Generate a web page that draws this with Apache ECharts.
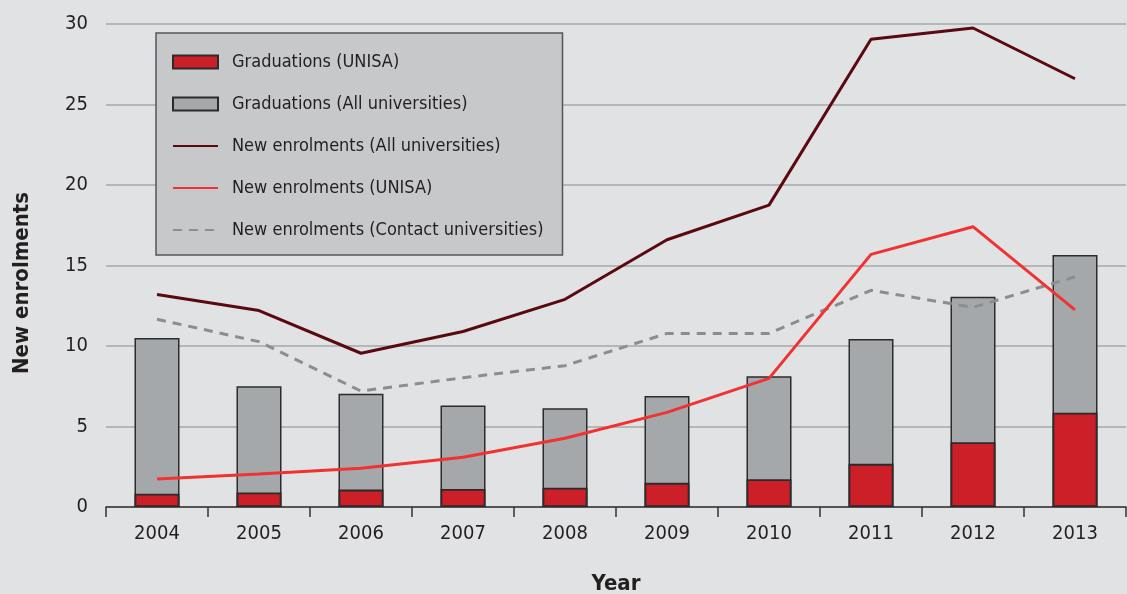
<!DOCTYPE html>
<html><head><meta charset="utf-8">
<script src="https://cdn.jsdelivr.net/npm/echarts@6/dist/echarts.min.js"></script>
<style>html,body{margin:0;padding:0;background:#e1e2e4;}#c{width:1127px;height:594px;}</style>
</head><body><div id="c"></div>
<script>
const years = ['2004','2005','2006','2007','2008','2009','2010','2011','2012','2013'];
const gradUnisa = [0.82, 0.9, 1.08, 1.12, 1.2, 1.5, 1.72, 2.68, 4.02, 5.86];
const gradAll = [10.5, 7.5, 7.04, 6.3, 6.13, 6.9, 8.12, 10.43, 13.06, 15.65];
const enrolAll = [13.2, 12.2, 9.55, 10.9, 12.9, 16.6, 18.75, 29.05, 29.75, 26.6];
const enrolUnisa = [1.74, 2.05, 2.4, 3.09, 4.27, 5.88, 7.99, 15.69, 17.41, 12.24];
const enrolContact = [11.66, 10.27, 7.2, 8.03, 8.78, 10.78, 10.78, 13.46, 12.4, 14.3];
const yTicks = [0, 5, 10, 15, 20, 25, 30];

const FONT = '"DejaVu Sans Condensed","DejaVu Sans",sans-serif';
const TXT = '#231f20';
const chart = echarts.init(document.getElementById('c'));
chart.setOption({
  backgroundColor: '#e1e2e4',
  animation: false,
  textStyle: {fontFamily: FONT},
  grid: {left: 106, right: 1, top: 24, bottom: 87, containLabel: false, outerBoundsMode: 'none'},
  graphic: [{
    type: 'text', x: 22, y: 283, rotation: Math.PI / 2,
    style: {text: 'New enrolments', fontFamily: FONT, fontSize: 22, fontWeight: 'bold', fill: TXT, align: 'center', verticalAlign: 'middle'}
  }],
  legend: {
    orient: 'vertical', left: 156, top: 33,
    backgroundColor: '#c6c8c9', borderColor: '#555', borderWidth: 1.5,
    padding: [20, 19, 16, 16],
    itemWidth: 45, itemHeight: 13, itemGap: 24,
    textStyle: {fontFamily: FONT, fontSize: 18, color: TXT, padding: [0, 0, 0, 9]},
    data: [
      {name: 'Graduations (UNISA)', icon: 'rect'},
      {name: 'Graduations (All universities)', icon: 'rect'},
      {name: 'New enrolments (All universities)', itemStyle: {opacity: 0}},
      {name: 'New enrolments (UNISA)', itemStyle: {opacity: 0}},
      {name: 'New enrolments (Contact universities)', itemStyle: {opacity: 0}}
    ]
  },
  xAxis: {
    type: 'category', data: years,
    name: 'Year', nameLocation: 'middle', nameGap: 66,
    nameTextStyle: {fontFamily: FONT, fontSize: 22, fontWeight: 'bold', color: TXT},
    axisLine: {lineStyle: {color: '#333', width: 1.5}},
    axisTick: {show: true, length: 10, lineStyle: {color: '#333', width: 1.5}},
    axisLabel: {fontFamily: FONT, fontSize: 20, color: TXT, margin: 17},
    splitLine: {show: false}
  },
  yAxis: {
    type: 'value', min: yTicks[0], max: yTicks[yTicks.length - 1], interval: 5,
    axisLine: {show: false}, axisTick: {show: false},
    axisLabel: {fontFamily: FONT, fontSize: 20, color: TXT, margin: 18},
    splitLine: {lineStyle: {color: '#a6a7a9', width: 1.5}}
  },
  series: [
    {name: 'Graduations (All universities)', type: 'bar', data: gradAll, barWidth: 45, barGap: '-100%', z: 1,
     itemStyle: {color: '#a5a8ab', borderColor: '#2b2b2b', borderWidth: 1.5}},
    {name: 'Graduations (UNISA)', type: 'bar', data: gradUnisa, barWidth: 45, barGap: '-100%', z: 2,
     itemStyle: {color: '#cc1f27', borderColor: '#2b2b2b', borderWidth: 1.8}},
    {name: 'New enrolments (All universities)', type: 'line', data: enrolAll, symbol: 'none', z: 5,
     lineStyle: {color: '#5a0a0f', width: 3}, itemStyle: {color: '#5a0a0f'}},
    {name: 'New enrolments (UNISA)', type: 'line', data: enrolUnisa, symbol: 'none', z: 5,
     lineStyle: {color: '#f03232', width: 3}, itemStyle: {color: '#f03232'}},
    {name: 'New enrolments (Contact universities)', type: 'line', data: enrolContact, symbol: 'none', z: 4,
     lineStyle: {color: '#8c8d8f', width: 3, type: [9, 7]}, itemStyle: {color: '#8c8d8f'}}
  ]
});
</script></body></html>
